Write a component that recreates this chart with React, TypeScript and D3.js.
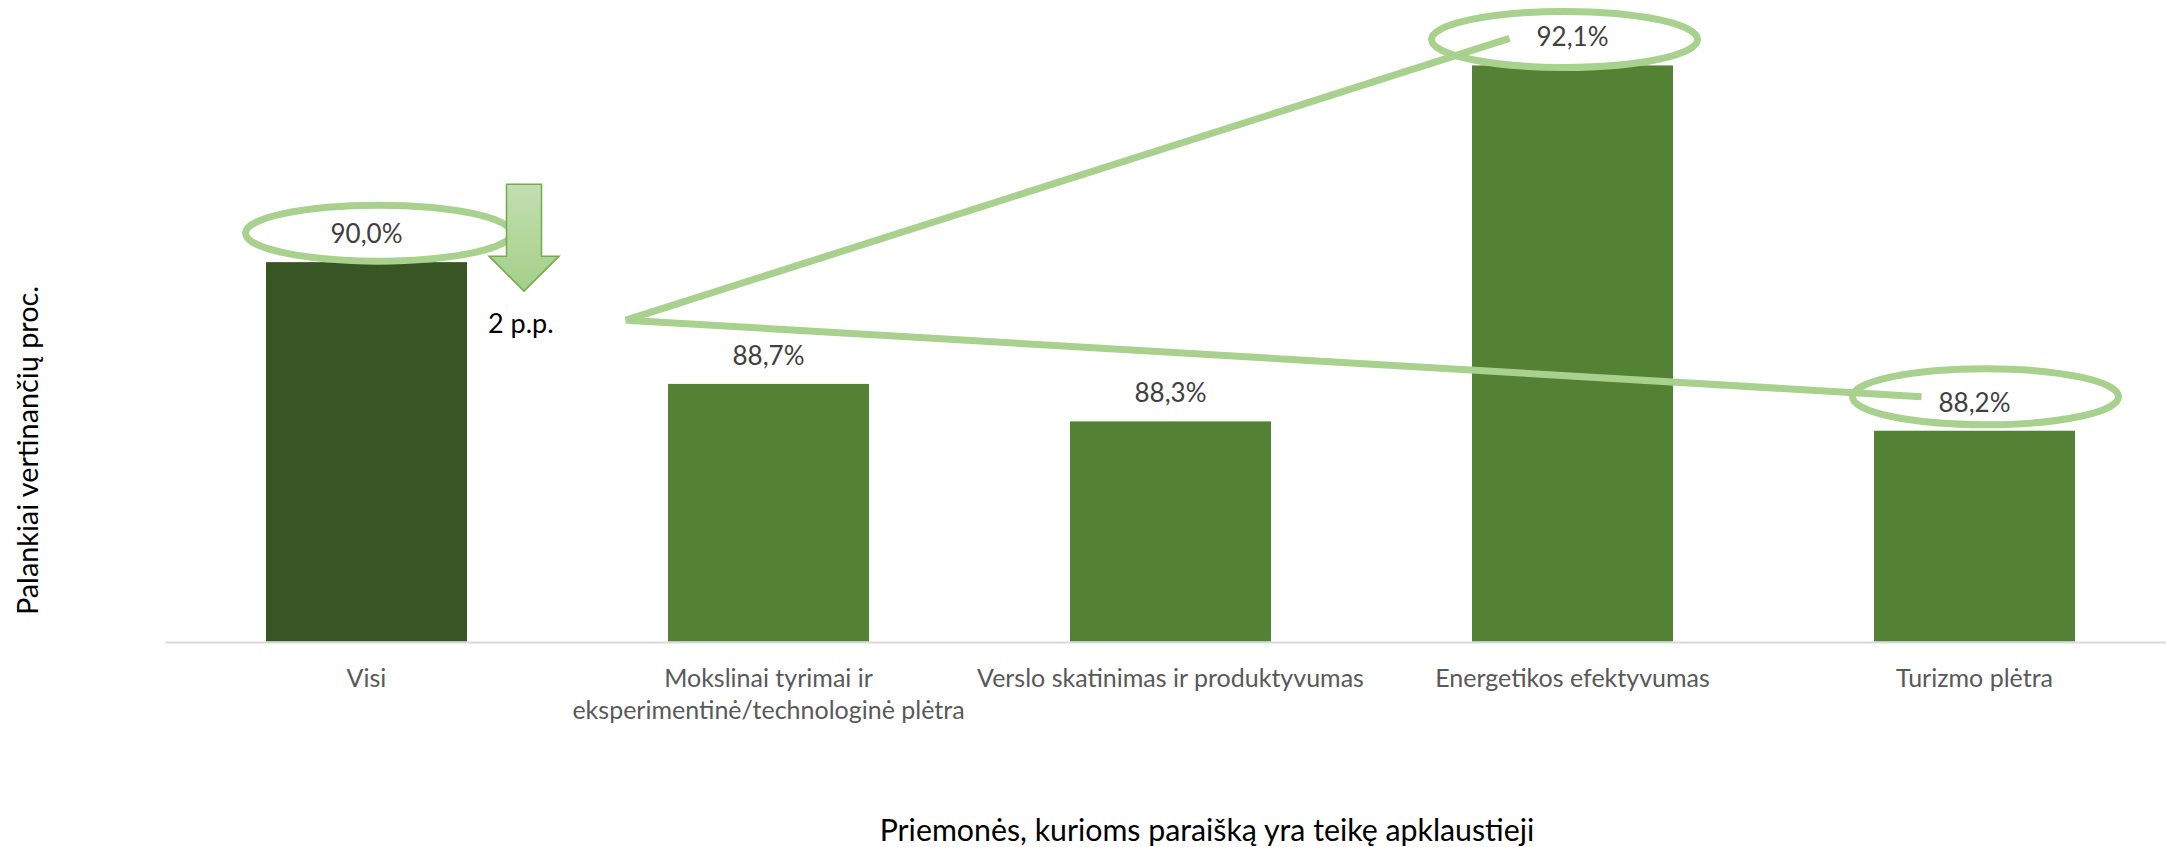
import React from "react";
import * as d3 from "d3";

const categories: string[][] = [
  ["Visi"],
  ["Mokslinai tyrimai ir", "eksperimentinė/technologinė plėtra"],
  ["Verslo skatinimas ir produktyvumas"],
  ["Energetikos efektyvumas"],
  ["Turizmo plėtra"],
];
const values: number[] = [90.0, 88.7, 88.3, 92.1, 88.2];
const barColors: string[] = ["#375623", "#548235", "#548235", "#548235", "#548235"];
const yTitle = "Palankiai vertinančių proc.";
const xTitle = "Priemonės, kurioms paraišką yra teikę apklaustieji";
const arrowText = "2 p.p.";
const circled: number[] = [0, 3, 4];

const W = 2166;
const H = 847;
const FONT = "Lato, 'Open Sans', sans-serif";

export default function App() {
  const x = d3
    .scaleBand<number>()
    .domain(values.map((_, i) => i))
    .range([165.5, 165.5 + 5 * 402])
    .paddingInner(0.5)
    .paddingOuter(0.25);
  const y = d3.scaleLinear().domain([85.95, 92.5]).range([641.5, 641.5 - 6.55 * 93.67]);
  const bw = x.bandwidth();
  const cx = (i: number) => (x(i) as number) + bw / 2;
  const fmt = (v: number) => d3.format(".1f")(v).replace(".", ",") + "%";

  const ellipseOffsets: Record<number, [number, number]> = {
    0: [12, -29],
    3: [-8, -26],
    4: [11, -34],
  };

  // annotation geometry derived from scales
  const startX = (x(1) as number) - 42;
  const startY = y(values[0]) + 58;
  const end1X = cx(3) - 63;
  const end1Y = y(values[3]) - 27;
  const end2X = cx(4) - 53;
  const end2Y = y(values[4]) - 34;

  // arrow
  const ax = (x(0) as number) + bw + 57;
  const aTop = y(values[0]) - 78;
  const shaftW = 35;
  const headW = 70;
  const headY = aTop + 72;
  const tipY = aTop + 107;
  const arrowPath = [
    [ax - shaftW / 2, aTop],
    [ax + shaftW / 2, aTop],
    [ax + shaftW / 2, headY],
    [ax + headW / 2, headY],
    [ax, tipY],
    [ax - headW / 2, headY],
    [ax - shaftW / 2, headY],
  ];

  return (
    <svg
      width={W}
      height={H}
      style={{ position: "absolute", left: 0, top: 0, background: "#fff" }}
      fontFamily={FONT}
    >
      <defs>
        <linearGradient id="arrowGrad" x1="0" y1="0" x2="0" y2="1">
          <stop offset="0" stopColor="#c3deb2" />
          <stop offset="1" stopColor="#a4cf88" />
        </linearGradient>
      </defs>

      {/* bars */}
      {values.map((v, i) => (
        <rect
          key={"b" + i}
          x={x(i)}
          y={y(v)}
          width={bw}
          height={y.range()[0] - y(v)}
          fill={barColors[i]}
        />
      ))}

      {/* axis line */}
      <line x1={165.5} x2={W} y1={642.5} y2={642.5} stroke="#d9d9d9" strokeWidth={2} />

      {/* data labels */}
      {values.map((v, i) => (
        <text
          key={"l" + i}
          x={cx(i)}
          y={y(v) - 19}
          textAnchor="middle"
          fontSize={26}
          fill="#404040"
        >
          {fmt(v)}
        </text>
      ))}

      {/* category labels */}
      {categories.map((lines, i) => (
        <text key={"c" + i} textAnchor="middle" fontSize={25} fill="#595959">
          {lines.map((ln, j) => (
            <tspan key={j} x={cx(i)} y={687 + j * 32}>
              {ln}
            </tspan>
          ))}
        </text>
      ))}

      {/* axis titles */}
      <text
        transform={`translate(38, 450.5) rotate(-90)`}
        textAnchor="middle"
        fontSize={28.8}
        fill="#000"
      >
        {yTitle}
      </text>
      <text x={1207} y={841} textAnchor="middle" fontSize={30.3} fill="#000">
        {xTitle}
      </text>

      {/* annotations: lines */}
      <polyline
        points={`${end1X},${end1Y} ${startX},${startY} ${end2X},${end2Y}`}
        fill="none"
        stroke="#a9d18e"
        strokeWidth={7}
        strokeLinejoin="miter"
      />

      {/* ellipses */}
      {circled.map((i) => (
        <ellipse
          key={"e" + i}
          cx={cx(i) + ellipseOffsets[i][0]}
          cy={y(values[i]) + ellipseOffsets[i][1]}
          rx={133}
          ry={28}
          fill="none"
          stroke="#a9d18e"
          strokeWidth={7}
        />
      ))}

      {/* arrow */}
      <path
        d={"M" + arrowPath.map((p) => p.join(",")).join("L") + "Z"}
        fill="url(#arrowGrad)"
        stroke="#70ad47"
        strokeWidth={1.5}
      />
      <text x={ax - 36} y={333} fontSize={27} fill="#000">
        {arrowText}
      </text>
    </svg>
  );
}
